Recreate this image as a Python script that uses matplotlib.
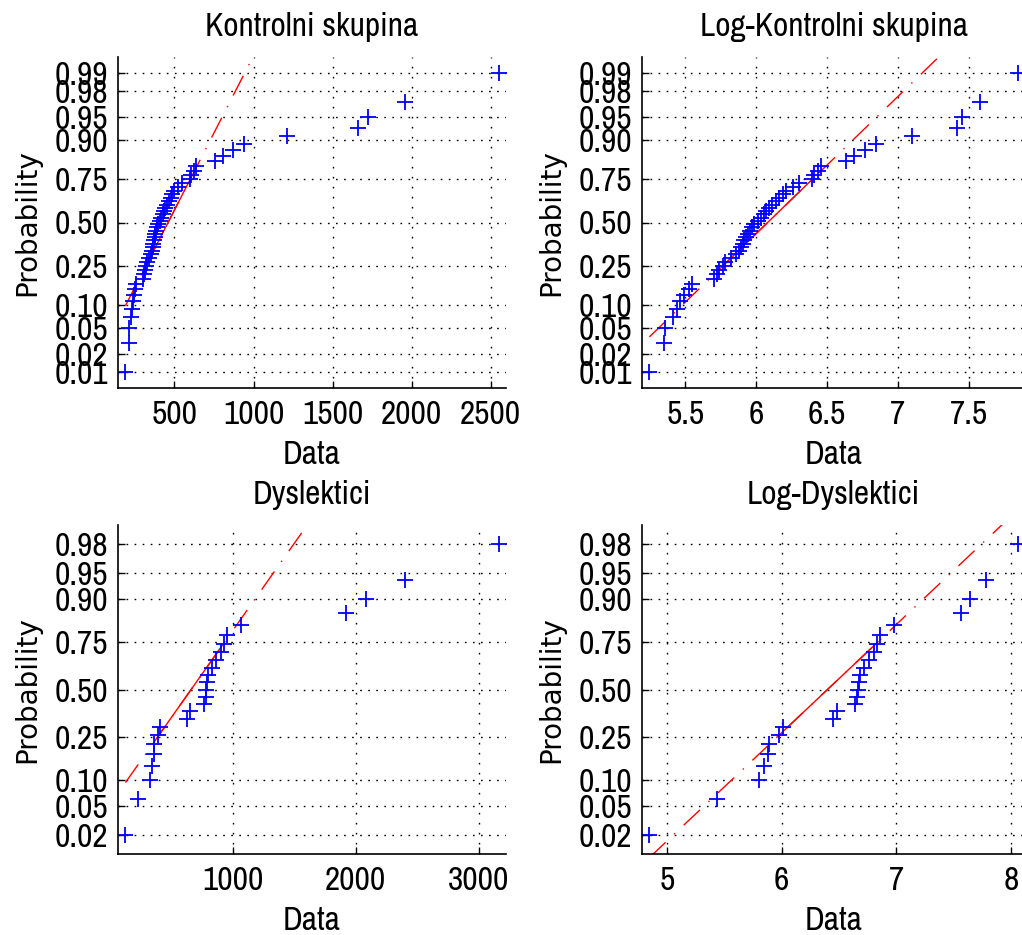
"""Normal probability plots (MATLAB normplot style) for the control and dyslexic groups.

Raw data on the left, natural log of the same data on the right.
"""

from statistics import NormalDist

import numpy as np
import matplotlib
matplotlib.use("Agg")
import matplotlib.pyplot as plt
from matplotlib import font_manager
from matplotlib.font_manager import FontProperties

# values (sorted)
kontrolni = [190, 210, 212, 224, 231, 236, 243, 251, 256, 299,
             306, 311, 319, 325, 338, 350, 357, 363, 367, 371,
             376, 380, 385, 392, 398, 408, 417, 425, 433, 443,
             452, 464, 475, 486, 498, 522, 547, 600, 607, 622,
             636, 759, 805, 869, 937, 1213, 1664, 1723, 1960, 2550]
dyslektici = [127, 230, 330, 345, 358, 362, 395, 408, 630, 655,
              765, 778, 785, 790, 800, 830, 865, 900, 930, 950,
              1070, 1920, 2080, 2398, 3160]

titles = ["Kontrolni skupina", "Log-Kontrolni skupina", "Dyslektici", "Log-Dyslektici"]
xticks_kontrolni = [500, 1000, 1500, 2000, 2500]
xticks_log_kontrolni = [5.5, 6, 6.5, 7, 7.5]
xticks_dyslektici = [1000, 2000, 3000]
xticks_log_dyslektici = [5, 6, 7, 8]
prob_ticks = [0.01, 0.02, 0.05, 0.10, 0.25, 0.50, 0.75, 0.90, 0.95, 0.98, 0.99]

ND = NormalDist()

plt.rcParams["font.family"] = "Liberation Sans"
plt.rcParams["font.size"] = 20
plt.rcParams["lines.scale_dashes"] = False

# the original text is tall and narrow; use the condensed face if it is installed
narrow = [f for f in font_manager.fontManager.ttflist
          if "narrow" in f.name.lower() and f.style == "normal"
          and str(f.weight) in ("400", "normal", "regular")]
if narrow:
    TEXT = FontProperties(fname=narrow[0].fname, size=24)
else:
    TEXT = FontProperties(family="Liberation Sans", size=20)
YLABEL = FontProperties(family="DejaVu Sans", size=20)


def prctile(values, pct):
    """MATLAB-style percentile (linear interpolation at (i-0.5)/n)."""
    values = np.sort(values)
    n = len(values)
    pos = 100.0 * (np.arange(1, n + 1) - 0.5) / n
    return np.interp(pct, pos, values)


def normplot(ax, data, title, xticks):
    x = np.sort(np.asarray(data, dtype=float))
    n = len(x)
    y = np.array([ND.inv_cdf((i - 0.5) / n) for i in range(1, n + 1)])

    # reference line through 1st and 3rd quartiles, extended to data range
    q1x, q3x = prctile(x, 25), prctile(x, 75)
    q1y, q3y = prctile(y, 25), prctile(y, 75)
    slope = (q3y - q1y) / (q3x - q1x)
    cx, cy = (q1x + q3x) / 2, (q1y + q3y) / 2
    mx = np.array([x[0], x[-1]])
    my = cy + slope * (mx - cx)

    ax.plot(mx, my, color="red", lw=1.0, ls=(0, (16, 8.5, 1, 8.5)))
    ax.plot([q1x, q3x], [q1y, q3y], color="red", lw=1.0)
    ax.plot(x, y, "+", color="blue", ms=11, mew=1.3)

    dx = 0.02 * (x[-1] - x[0])
    ax.set_xlim(x[0] - dx, x[-1] + dx)
    ylo, yhi = ND.inv_cdf(0.25 / n), ND.inv_cdf(1 - 0.25 / n)
    ax.set_ylim(ylo, yhi)

    probs = [p for p in prob_ticks if ylo < ND.inv_cdf(p) < yhi]
    ax.set_yticks([ND.inv_cdf(p) for p in probs])
    ax.set_yticklabels([f"{p:.2f}" for p in probs], fontproperties=TEXT)
    ax.set_xticks(xticks)
    ax.set_xticklabels([f"{t:g}" for t in xticks], fontproperties=TEXT)

    for side in ("top", "right"):
        ax.spines[side].set_visible(False)
    for side in ("left", "bottom"):
        ax.spines[side].set_linewidth(1.2)
    ax.tick_params(axis="both", direction="in", length=5, width=1.0)
    ax.tick_params(axis="x", pad=9)
    ax.tick_params(axis="y", pad=7)
    ax.xaxis.grid(True, color="black", lw=1.0, ls=(0, (1.2, 6.0)))
    ax.yaxis.grid(True, color="black", lw=1.0, ls=(0, (1.2, 4.6)))
    ax.set_axisbelow(True)

    ax.set_title(title, pad=15, fontproperties=TEXT)
    ax.set_xlabel("Data", labelpad=7, fontproperties=TEXT)
    ax.set_ylabel("Probability", labelpad=10, fontproperties=YLABEL)


def main():
    W, H = 1022, 935
    fig = plt.figure(figsize=(W / 100, H / 100), dpi=100)

    # axes boxes in pixels: left, top, right, bottom
    boxes = [(118, 57, 506, 388), (642, 57, 1025, 388),
             (118, 525, 506, 854), (642, 525, 1025, 854)]
    datasets = [kontrolni, np.log(kontrolni), dyslektici, np.log(dyslektici)]
    ticks = [xticks_kontrolni, xticks_log_kontrolni, xticks_dyslektici, xticks_log_dyslektici]

    for (l, t, r, b), data, title, xt in zip(boxes, datasets, titles, ticks):
        ax = fig.add_axes([l / W, 1 - b / H, (r - l) / W, (b - t) / H])
        normplot(ax, data, title, xt)

    fig.savefig("out.png", dpi=100)
    plt.close(fig)


if __name__ == "__main__":
    main()
